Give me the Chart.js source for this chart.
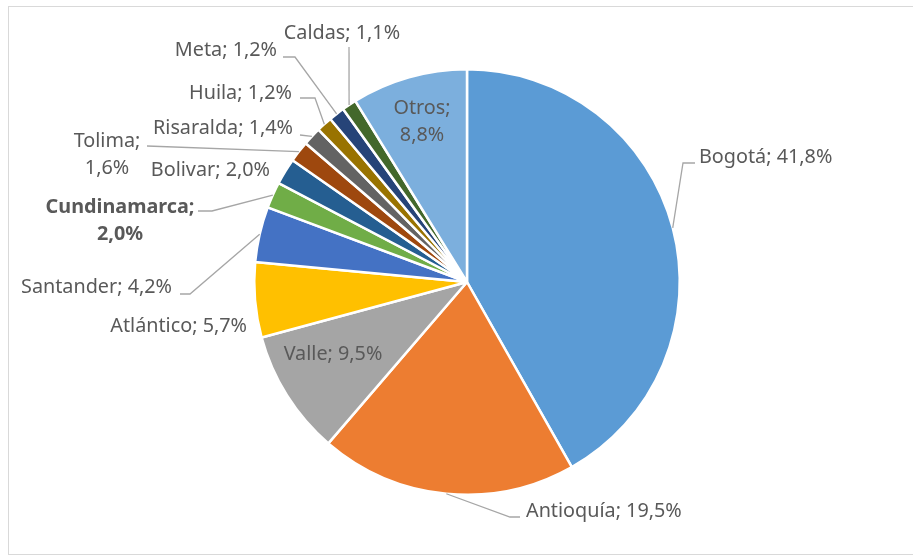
<!DOCTYPE html>
<html>
<head>
<meta charset="utf-8">
<script src="https://cdn.jsdelivr.net/npm/chart.js@4"></script>
<style>
  body { margin: 0; background: #fff; }
  #wrap { width: 913px; height: 556px; position: relative; }
</style>
</head>
<body>
<div id="wrap"><canvas id="chartRegiones" width="913" height="556"></canvas></div>
<script>
// datos (porcentaje por region)
var regiones = ['Bogotá', 'Antioquía', 'Valle', 'Atlántico', 'Santander', 'Cundinamarca',
  'Bolivar', 'Tolima', 'Risaralda', 'Huila', 'Meta', 'Caldas', 'Otros']
var porcentajes = [41.8, 19.5, 9.5, 5.7, 4.2, 2.0, 2.0, 1.6, 1.4, 1.2, 1.2, 1.1, 8.8]

var colores = ['#5B9BD5', '#ED7D31', '#A5A5A5', '#FFC000', '#4472C4', '#70AD47',
  '#255E91', '#9E480E', '#636363', '#997300', '#264478', '#43682B', '#7CAFDD']

// donde va cada etiqueta (x, y del texto, alineacion, codo de la linea guia)
var etiquetas = [
  { x: 699, y: 157, align: 'left', codo: [[683, 163], [695, 163]] },
  { x: 526, y: 511, align: 'left', codo: [[510, 517], [520, 517]] },
  { x: 333, y: 354, align: 'center' },
  { x: 247, y: 326, align: 'right' },
  { x: 172, y: 287, align: 'right', codo: [[190, 294], [180, 294]] },
  { x: 120, y: 207, align: 'center', dosLineas: true, negrita: true, codo: [[212, 211], [198, 211]] },
  { x: 270, y: 170, align: 'right' },
  { x: 107, y: 141, align: 'center', dosLineas: true, codo: [[147, 146]] },
  { x: 293, y: 128, align: 'right', codo: [[300, 135]] },
  { x: 292, y: 93, align: 'right', codo: [[315, 98], [300, 98]] },
  { x: 277, y: 50, align: 'right', codo: [[295, 57], [283, 57]] },
  { x: 342, y: 33, align: 'center', codo: [[349, 47]] },
  { x: 422, y: 108, align: 'center', dosLineas: true }
]

function textoPorcentaje(v) {
  return v.toFixed(1).replace('.', ',') + '%'
}

var marco = {
  id: 'marco',
  beforeDraw: function (chart) {
    var ctx = chart.ctx
    ctx.save()
    ctx.fillStyle = '#fff'
    ctx.fillRect(0, 0, chart.width, chart.height)
    ctx.strokeStyle = '#D9D9D9'
    ctx.lineWidth = 1
    ctx.strokeRect(8.5, 6.5, 920, 548)
    ctx.restore()
  }
}

var rotulos = {
  id: 'rotulos',
  afterDatasetsDraw: function (chart) {
    var ctx = chart.ctx
    var meta = chart.getDatasetMeta(0)
    ctx.save()
    meta.data.forEach(function (arco, i) {
      var conf = etiquetas[i]
      var p = arco.getProps(['x', 'y', 'startAngle', 'endAngle', 'outerRadius'], true)
      var medio = (p.startAngle + p.endAngle) / 2
      var ax = p.x + Math.cos(medio) * p.outerRadius
      var ay = p.y + Math.sin(medio) * p.outerRadius

      if (conf.codo) {
        ctx.strokeStyle = '#A6A6A6'
        ctx.lineWidth = 1.3
        ctx.beginPath()
        ctx.moveTo(ax, ay)
        conf.codo.forEach(function (pt) { ctx.lineTo(pt[0], pt[1]) })
        ctx.stroke()
      }

      var lineas
      if (conf.dosLineas) {
        lineas = [regiones[i] + ';', textoPorcentaje(porcentajes[i])]
      } else {
        lineas = [regiones[i] + '; ' + textoPorcentaje(porcentajes[i])]
      }
      ctx.fillStyle = '#595959'
      ctx.font = (conf.negrita ? 'bold ' : '') + '19.8px "Noto Sans"'
      ctx.textAlign = conf.align
      ctx.textBaseline = 'middle'
      lineas.forEach(function (l, k) {
        ctx.fillText(l, conf.x, conf.y + k * 27)
      })
    })
    ctx.restore()
  }
}

var ctx = document.getElementById('chartRegiones')

new Chart(ctx, {
  type: 'pie',
  data: {
    labels: regiones,
    datasets: [{
      data: porcentajes,
      backgroundColor: colores,
      borderColor: '#ffffff',
      borderWidth: 2.5
    }]
  },
  options: {
    responsive: false,
    animation: false,
    layout: {
      padding: { left: 253, right: 232, top: 68, bottom: 60 }
    },
    plugins: {
      legend: { display: false },
      tooltip: { enabled: false }
    }
  },
  plugins: [marco, rotulos]
})
</script>
</body>
</html>
